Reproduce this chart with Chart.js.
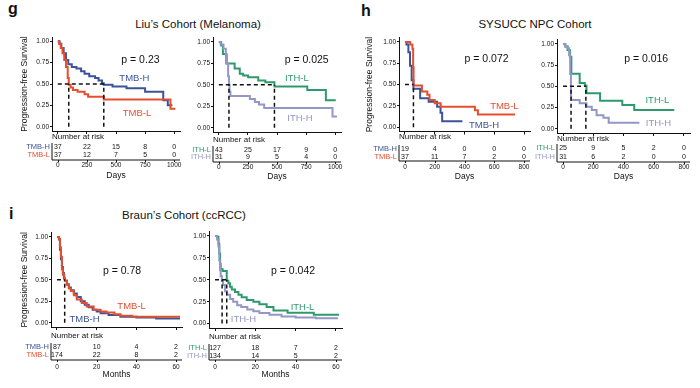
<!DOCTYPE html>
<html>
<head>
<meta charset="utf-8">
<script src="https://cdn.jsdelivr.net/npm/chart.js@4.4.1/dist/chart.umd.min.js"></script>
<style>
  body { margin: 0; width: 700px; height: 388px; background: #fff; position: relative; overflow: hidden;
         font-family: "Liberation Sans", Arial, sans-serif; color: #111; }
  canvas { position: absolute; }
  .title { position: absolute; font-size: 11.5px; line-height: 1; white-space: nowrap; transform: translate(-50%, -50%); }
  .tag { position: absolute; font-size: 16px; font-weight: bold; line-height: 1; }
</style>
</head>
<body>
<div class="tag" style="left:8px;top:1px">g</div>
<div class="tag" style="left:361px;top:3px">h</div>
<div class="tag" style="left:9px;top:206px">i</div>
<div class="title" style="left:198px;top:25px">Liu’s Cohort (Melanoma)</div>
<div class="title" style="left:535px;top:25px">SYSUCC NPC Cohort</div>
<div class="title" style="left:184px;top:216px">Braun’s Cohort (ccRCC)</div>
<script>
// ---- axis ticks ----
const SURV_TICKS = [0, 0.25, 0.5, 0.75, 1];
const LIU_DAYS = [0, 250, 500, 750, 1000];
const NPC_DAYS = [0, 200, 400, 600, 800];
const BRAUN_MONTHS = [0, 20, 40, 60];

// ---- g: Liu's cohort, TMB (days / survival) ----
const LIU_TMBH_T = [0, 15, 30, 50, 70, 90, 120, 160, 200, 230, 270, 320, 350, 380, 395, 470, 590, 750, 906, 945, 985];
const LIU_TMBH_S = [1, 0.97, 0.92, 0.86, 0.78, 0.73, 0.70, 0.68, 0.65, 0.62, 0.59, 0.57, 0.54, 0.51, 0.49, 0.47, 0.45, 0.41, 0.31, 0.25, 0.25];
const LIU_TMBL_T = [0, 10, 25, 40, 55, 70, 85, 94, 110, 130, 170, 230, 260, 395, 968, 1010];
const LIU_TMBL_S = [1, 0.97, 0.92, 0.86, 0.78, 0.70, 0.57, 0.49, 0.46, 0.43, 0.41, 0.38, 0.35, 0.32, 0.21, 0.21];
const LIU_TMBH_RISK = [37, 22, 15, 8, 0];
const LIU_TMBL_RISK = [37, 12, 7, 5, 0];
const LIU_TMB_MED = [94, 395];

// ---- g: Liu's cohort, ITH ----
const LIU_ITHL_T = [0, 20, 35, 64, 136, 180, 209, 252, 339, 400, 478, 760, 920, 1005];
const LIU_ITHL_S = [1, 0.96, 0.86, 0.75, 0.69, 0.63, 0.61, 0.59, 0.55, 0.53, 0.48, 0.44, 0.32, 0.32];
const LIU_ITHH_T = [0, 15, 40, 60, 70, 80, 87, 92, 100, 267, 310, 345, 390, 977, 1015];
const LIU_ITHH_S = [1, 0.97, 0.92, 0.85, 0.75, 0.60, 0.50, 0.42, 0.37, 0.335, 0.30, 0.27, 0.23, 0.13, 0.13];
const LIU_ITHL_RISK = [43, 25, 17, 9, 0];
const LIU_ITHH_RISK = [31, 9, 5, 4, 0];
const LIU_ITH_MED = [87, 478];

// ---- h: SYSUCC NPC, TMB ----
const NPC_TMBH_T = [0, 10, 23, 34, 45, 57, 102, 159, 216, 239, 250, 386];
const NPC_TMBH_S = [1, 0.97, 0.88, 0.72, 0.55, 0.45, 0.34, 0.30, 0.24, 0.17, 0.07, 0.07];
const NPC_TMBL_T = [0, 35, 50, 55, 58, 114, 150, 165, 200, 240, 470, 490, 740];
const NPC_TMBL_S = [1, 0.97, 0.92, 0.70, 0.49, 0.42, 0.38, 0.32, 0.28, 0.24, 0.20, 0.15, 0.15];
const NPC_TMBH_RISK = [19, 4, 0, 0, 0];
const NPC_TMBL_RISK = [37, 11, 7, 2, 0];
const NPC_TMB_MED = [57];

// ---- h: SYSUCC NPC, ITH ----
const NPC_ITHL_T = [0, 15, 30, 45, 55, 110, 144, 155, 245, 392, 471, 736];
const NPC_ITHL_S = [1, 0.97, 0.93, 0.85, 0.65, 0.54, 0.51, 0.42, 0.33, 0.28, 0.22, 0.22];
const NPC_ITHH_T = [0, 15, 30, 40, 47, 52, 54, 110, 155, 190, 222, 267, 302, 505];
const NPC_ITHH_S = [1, 0.97, 0.95, 0.87, 0.65, 0.38, 0.34, 0.30, 0.26, 0.22, 0.16, 0.13, 0.07, 0.07];
const NPC_ITHL_RISK = [25, 9, 5, 2, 0];
const NPC_ITHH_RISK = [31, 6, 2, 0, 0];
const NPC_ITH_MED = [53, 151];

// ---- i: Braun's cohort, TMB (months) ----
const BR_TMBH_T = [0, 1, 1.5, 2, 2.5, 3, 3.5, 4, 5, 6, 7, 8.5, 10, 12, 14, 16, 18, 20, 22, 26, 32, 40, 50, 62];
const BR_TMBH_S = [1, 0.97, 0.85, 0.74, 0.65, 0.58, 0.52, 0.49, 0.45, 0.41, 0.38, 0.34, 0.30, 0.25, 0.21, 0.18, 0.15, 0.13, 0.11, 0.09, 0.07, 0.06, 0.05, 0.05];
const BR_TMBL_T = [0, 1, 1.5, 2, 2.5, 3, 3.7, 4, 5, 6, 7, 8.5, 10, 12.5, 15, 18.5, 22, 25, 29, 32, 38, 62];
const BR_TMBL_S = [1, 0.98, 0.88, 0.77, 0.62, 0.56, 0.51, 0.49, 0.44, 0.40, 0.37, 0.32, 0.27, 0.23, 0.19, 0.15, 0.13, 0.12, 0.10, 0.08, 0.07, 0.07];
const BR_TMBH_RISK = [87, 10, 4, 2];
const BR_TMBL_RISK = [174, 22, 8, 2];
const BR_TMB_MED = [3.9];

// ---- i: Braun's cohort, ITH ----
const BR_ITHL_T = [0, 1, 1.7, 2.1, 2.5, 2.8, 3.8, 5.8, 6.6, 7.4, 8.3, 9.9, 11.6, 13.2, 15.7, 19, 22, 25.6, 29, 36, 49, 61];
const BR_ITHL_S = [1, 0.99, 0.91, 0.80, 0.68, 0.62, 0.60, 0.49, 0.46, 0.42, 0.39, 0.36, 0.33, 0.30, 0.27, 0.25, 0.22, 0.19, 0.15, 0.125, 0.10, 0.09];
const BR_ITHH_T = [0, 1, 1.7, 2.1, 2.5, 2.8, 3.4, 4, 5, 6, 7.5, 9, 11, 13, 16, 19, 22, 27, 33, 40, 50, 61];
const BR_ITHH_S = [1, 0.96, 0.88, 0.72, 0.61, 0.54, 0.49, 0.44, 0.37, 0.33, 0.28, 0.25, 0.21, 0.19, 0.16, 0.14, 0.12, 0.10, 0.08, 0.07, 0.06, 0.06];
const BR_ITHL_RISK = [127, 18, 7, 2];
const BR_ITHH_RISK = [134, 14, 5, 2];
const BR_ITH_MED = [3.5, 5.8];

// ---- colours ----
const C_TMBH = '#3b5399';
const C_TMBL = '#e34f2f';
const C_ITHL = '#2e9a6c';
const C_ITHH = '#9297c6';
const INK = '#111';
const FONT = '"Liberation Sans", Arial, sans-serif';

Chart.defaults.font.family = FONT;
Chart.defaults.color = INK;

const kmExtras = {
  id: 'kmExtras',
  afterDraw(chart, args, o) {
    const { ctx, chartArea: a, scales: { x, y } } = chart;
    const f = sz => sz + 'px ' + FONT;
    ctx.save();
    ctx.textBaseline = 'middle';
    // p value + curve labels
    o.notes.forEach(n => {
      ctx.font = f(n.size);
      ctx.fillStyle = n.color;
      ctx.textAlign = 'center';
      ctx.fillText(n.text, x.getPixelForValue(n.x), y.getPixelForValue(n.y));
    });
    // number at risk table
    ctx.fillStyle = INK;
    ctx.textAlign = 'left';
    ctx.font = f(8);
    ctx.fillText('Number at risk', a.left, o.head);
    o.risk.forEach((r, i) => {
      const ry = o.rows[i];
      ctx.font = f(7.5);
      ctx.fillStyle = r.color;
      ctx.textAlign = 'right';
      ctx.fillText(r.label, a.left - 2, ry);
      ctx.font = f(7);
      ctx.fillStyle = INK;
      ctx.textAlign = 'center';
      r.n.forEach((v, j) => ctx.fillText(String(v), x.getPixelForValue(o.times[j]), ry));
    });
    ctx.strokeStyle = INK;
    ctx.lineWidth = 1;
    ctx.beginPath();
    ctx.moveTo(a.left, o.rows[0] - 4);
    ctx.lineTo(a.left, o.line);
    ctx.lineTo(a.right, o.line);
    o.times.forEach(t => {
      const px = Math.round(x.getPixelForValue(t)) + 0.5;
      ctx.moveTo(px, o.line);
      ctx.lineTo(px, o.line + 2);
    });
    ctx.stroke();
    ctx.restore();
  }
};

function km(t, s) { return t.map((v, i) => ({ x: v, y: s[i] })); }

function makePanel(p) {
  const b = p.box;
  const cLeft = Math.max(0, b.l - 50);
  const cTop = Math.round(b.t - 6);
  const cW = Math.round(b.r + 6 - cLeft);
  const cH = Math.round(p.title + 5 - cTop);
  const canvas = document.createElement('canvas');
  canvas.width = cW;
  canvas.height = cH;
  canvas.style.left = cLeft + 'px';
  canvas.style.top = cTop + 'px';
  document.body.appendChild(canvas);

  const padLeft = p.yTitleX ? p.yTitleX - 5.1 - cLeft : 0;
  const padTop = b.t - cTop;
  const padRight = cLeft + cW - b.r;
  const yWidth = b.l - cLeft - padLeft;
  const xHeight = cTop + cH - b.b;

  const datasets = [];
  const dash = { borderColor: INK, borderWidth: 1.5, borderDash: [4, 3], pointRadius: 0, fill: false };
  const mMax = Math.max(...p.medians);
  datasets.push({ ...dash, data: [{ x: 0, y: 0.5 }, { x: mMax, y: 0.5 }] });
  p.medians.forEach(m => datasets.push({ ...dash, data: [{ x: m, y: 0 }, { x: m, y: 0.5 }] }));
  p.curves.forEach(c => datasets.push({
    data: km(c.t, c.s), borderColor: c.color, borderWidth: 2, stepped: true, pointRadius: 0, fill: false
  }));

  new Chart(canvas, {
    type: 'line',
    data: { datasets },
    options: {
      responsive: false,
      animation: false,
      devicePixelRatio: 1,
      layout: { padding: { left: padLeft, top: padTop, right: padRight, bottom: 0 } },
      plugins: {
        legend: { display: false },
        tooltip: { enabled: false },
        kmExtras: {
          notes: p.notes,
          risk: p.risk,
          times: p.xTicks,
          head: p.head - cTop,
          rows: p.rows.map(r => r - cTop),
          line: p.line - cTop
        }
      },
      scales: {
        x: {
          type: 'linear', min: p.xMin, max: p.xMax,
          afterBuildTicks: s => { s.ticks = p.xTicks.map(v => ({ value: v })); },
          afterFit: s => { s.height = xHeight; s.paddingLeft = 0; s.paddingRight = 0; },
          grid: { drawOnChartArea: false, drawTicks: true, tickLength: 3, color: INK },
          border: { display: true, color: INK, width: 1 },
          ticks: { autoSkip: false, maxRotation: 0, padding: p.tick - b.b - 3 - 3.9, font: { size: 6.5 }, color: INK,
                   callback: v => String(v) },
          title: { display: true, text: p.xLabel, font: { size: 8.5 }, padding: 0, color: INK }
        },
        y: {
          min: -0.05, max: 1.05,
          afterBuildTicks: s => { s.ticks = SURV_TICKS.map(v => ({ value: v })); },
          afterFit: s => { s.width = yWidth; s.paddingTop = 0; s.paddingBottom = 0; },
          grid: { drawOnChartArea: false, drawTicks: true, tickLength: 2, color: INK },
          border: { display: true, color: INK, width: 1 },
          ticks: { padding: 1, font: { size: 6.5 }, color: INK, callback: v => v.toFixed(2) },
          title: { display: !!p.yTitleX, text: 'Progression-free Survival', font: { size: 8.5 }, padding: 0, color: INK }
        }
      }
    },
    plugins: [kmExtras]
  });
}

const note = (text, x, y, color, size) => ({ text, x, y, color, size });

makePanel({
  box: { l: 52, t: 37, r: 180, b: 131 }, yTitleX: 25,
  head: 137, rows: [147, 155], line: 160, tick: 165, title: 176,
  xMin: -50, xMax: 1050, xTicks: LIU_DAYS, xLabel: 'Days', medians: LIU_TMB_MED,
  curves: [{ t: LIU_TMBL_T, s: LIU_TMBL_S, color: C_TMBL }, { t: LIU_TMBH_T, s: LIU_TMBH_S, color: C_TMBH }],
  risk: [{ label: 'TMB-H', color: C_TMBH, n: LIU_TMBH_RISK }, { label: 'TMB-L', color: C_TMBL, n: LIU_TMBL_RISK }],
  notes: [note('p = 0.23', 710, 0.78, INK, 10.5), note('TMB-H', 658, 0.56, C_TMBH, 9.5), note('TMB-L', 680, 0.16, C_TMBL, 9.5)]
});

makePanel({
  box: { l: 213, t: 37.7, r: 341, b: 132 }, yTitleX: null,
  head: 140, rows: [150, 157], line: 162, tick: 167, title: 177,
  xMin: -50, xMax: 1050, xTicks: LIU_DAYS, xLabel: 'Days', medians: LIU_ITH_MED,
  curves: [{ t: LIU_ITHH_T, s: LIU_ITHH_S, color: C_ITHH }, { t: LIU_ITHL_T, s: LIU_ITHL_S, color: C_ITHL }],
  risk: [{ label: 'ITH-L', color: C_ITHL, n: LIU_ITHL_RISK }, { label: 'ITH-H', color: C_ITHH, n: LIU_ITHH_RISK }],
  notes: [note('p = 0.025', 755, 0.79, INK, 10.5), note('ITH-L', 671, 0.57, C_ITHL, 9.5), note('ITH-H', 697, 0.105, C_ITHH, 9.5)]
});

makePanel({
  box: { l: 399, t: 37.7, r: 530, b: 131.5 }, yTitleX: 370,
  head: 137, rows: [149, 157], line: 161, tick: 167, title: 177,
  xMin: -40, xMax: 840, xTicks: NPC_DAYS, xLabel: 'Days', medians: NPC_TMB_MED,
  curves: [{ t: NPC_TMBL_T, s: NPC_TMBL_S, color: C_TMBL }, { t: NPC_TMBH_T, s: NPC_TMBH_S, color: C_TMBH }],
  risk: [{ label: 'TMB-H', color: C_TMBH, n: NPC_TMBH_RISK }, { label: 'TMB-L', color: C_TMBL, n: NPC_TMBL_RISK }],
  notes: [note('p = 0.072', 548, 0.80, INK, 10.5), note('TMB-L', 668, 0.25, C_TMBL, 9.5), note('TMB-H', 531, 0.02, C_TMBH, 9.5)]
});

makePanel({
  box: { l: 557, t: 39.7, r: 690, b: 133 }, yTitleX: null,
  head: 139, rows: [148, 157], line: 162, tick: 167, title: 177,
  xMin: -40, xMax: 840, xTicks: NPC_DAYS, xLabel: 'Days', medians: NPC_ITH_MED,
  curves: [{ t: NPC_ITHH_T, s: NPC_ITHH_S, color: C_ITHH }, { t: NPC_ITHL_T, s: NPC_ITHL_S, color: C_ITHL }],
  risk: [{ label: 'ITH-L', color: C_ITHL, n: NPC_ITHL_RISK }, { label: 'ITH-H', color: C_ITHH, n: NPC_ITHH_RISK }],
  notes: [note('p = 0.016', 550, 0.82, INK, 10.5), note('ITH-L', 624, 0.33, C_ITHL, 9.5), note('ITH-H', 631, 0.06, C_ITHH, 9.5)]
});

makePanel({
  box: { l: 51, t: 232.7, r: 182, b: 327 }, yTitleX: 25,
  head: 336, rows: [347, 355], line: 360, tick: 367, title: 375,
  xMin: -3, xMax: 63, xTicks: BRAUN_MONTHS, xLabel: 'Months', medians: BR_TMB_MED,
  curves: [{ t: BR_TMBL_T, s: BR_TMBL_S, color: C_TMBL }, { t: BR_TMBH_T, s: BR_TMBH_S, color: C_TMBH }],
  risk: [{ label: 'TMB-H', color: C_TMBH, n: BR_TMBH_RISK }, { label: 'TMB-L', color: C_TMBL, n: BR_TMBL_RISK }],
  notes: [note('p = 0.78', 32.8, 0.60, INK, 10.5), note('TMB-L', 37.6, 0.19, C_TMBL, 9.5), note('TMB-H', 13.9, 0.035, C_TMBH, 9.5)]
});

makePanel({
  box: { l: 209, t: 231.6, r: 342, b: 328 }, yTitleX: null,
  head: 337, rows: [348, 356], line: 360, tick: 367, title: 375,
  xMin: -3, xMax: 63, xTicks: BRAUN_MONTHS, xLabel: 'Months', medians: BR_ITH_MED,
  curves: [{ t: BR_ITHH_T, s: BR_ITHH_S, color: C_ITHH }, { t: BR_ITHL_T, s: BR_ITHL_S, color: C_ITHL }],
  risk: [{ label: 'ITH-L', color: C_ITHL, n: BR_ITHL_RISK }, { label: 'ITH-H', color: C_ITHH, n: BR_ITHH_RISK }],
  notes: [note('p = 0.042', 38.7, 0.60, INK, 10.5), note('ITH-L', 43.4, 0.19, C_ITHL, 9.5), note('ITH-H', 14.1, 0.045, C_ITHH, 9.5)]
});
</script>
</body>
</html>
